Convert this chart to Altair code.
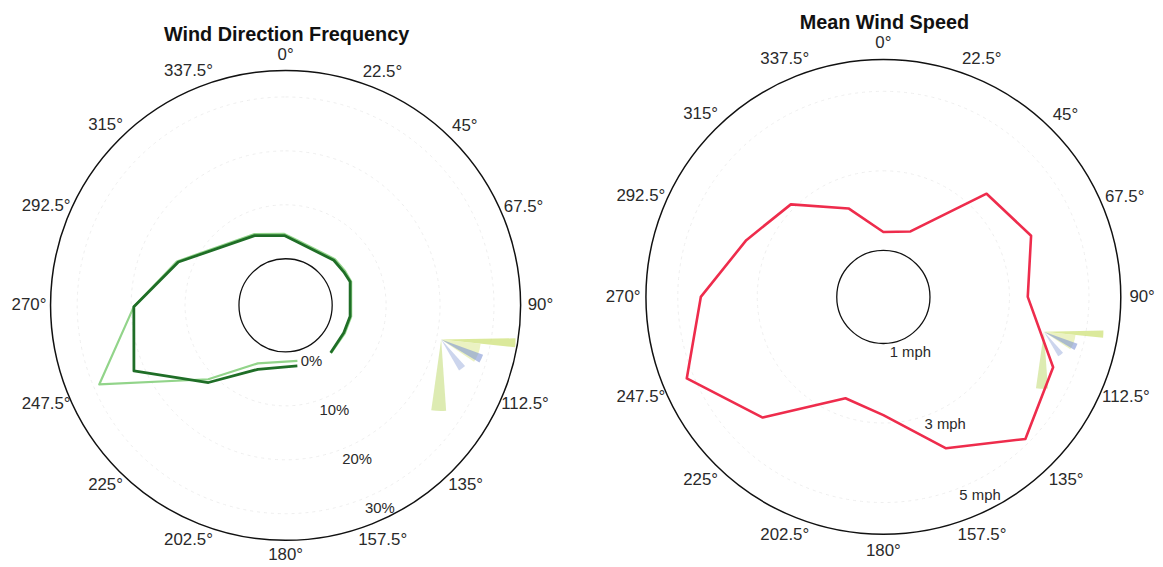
import altair as alt
import pandas as pd

# ---------------- data ----------------
DIR_ANGLES = [0, 22.5, 45, 67.5, 90, 112.5, 135, 157.5, 180, 202.5, 225, 247.5, 270, 292.5, 315, 337.5]
DIR_LABELS = ["0°", "22.5°", "45°", "67.5°", "90°", "112.5°", "135°", "157.5°",
              "180°", "202.5°", "225°", "247.5°", "270°", "292.5°", "315°", "337.5°"]

# Wind direction frequency (%), path order (open path)
FREQ_DARK_DIR = [169, 203.5, 225, 246.6, 269.5, 292, 336, 359, 10.6, 46.9, 60, 70, 99.7, 115.3, 136.5]
FREQ_DARK = [2.8, 4.3, 11.6, 22.0, 19.5, 12.8, 5.5, 4.3, 3.3, 3.6, 3.8, 4.1, 3.5, 3.3, 3.5]
FREQ_LIGHT_DIR = [168, 205.6, 226.3, 247, 269.5, 292, 336, 359, 10.6, 46.9, 60, 70, 99.7, 115.3, 136.5]
FREQ_LIGHT = [1.9, 3.3, 11.2, 28.9, 19.5, 13.1, 5.8, 4.6, 3.6, 3.9, 4.1, 4.3, 3.7, 3.5, 3.6]
FREQ_TICKS = [0, 10, 20, 30]
FREQ_TICK_TEXT = ["0%", "10%", "20%", "30%"]

# Mean wind speed (mph) by direction
SPEED_DIR = [0, 22.5, 45, 67.5, 90, 112.5, 135, 157.5, 180, 200.5, 225, 247.5, 270, 292.5, 315, 338.5]
SPEED_MEAN = [1.46, 1.61, 3.50, 3.85, 3.46, 4.45, 4.88, 3.95, 2.80, 2.55, 4.12, 5.18, 4.42, 3.56, 3.12, 2.22]
SPEED_TICKS = [1, 3, 5]
SPEED_TICK_TEXT = ["1 mph", "3 mph", "5 mph"]

# small coloured fan near 100 degrees
FAN_START = [89, 96, 110, 138, 176]
FAN_END = [96, 124, 121, 150, 188]
FAN_LEN = [75, 40, 45, 36, 72]
FAN_COLOR = ["#cfe27a", "#dde99a", "#8096d4", "#9aabdc", "#c6de7e"]
FAN_OPACITY = [0.75, 0.6, 0.6, 0.5, 0.6]

FONT = "Liberation Sans"
TAU = 6.283185307179586


def polar_xy(ch, r_expr):
    return (ch.transform_calculate(r=r_expr)
              .transform_calculate(x="datum.r*sin(datum.dir*PI/180)")
              .transform_calculate(y="datum.r*cos(datum.dir*PI/180)"))


def panel(cfg):
    xs = alt.Scale(domain=cfg["xdom"], nice=False, zero=False)
    ys = alt.Scale(domain=cfg["ydom"], nice=False, zero=False)
    X = alt.X("x:Q", scale=xs, axis=None)
    Y = alt.Y("y:Q", scale=ys, axis=None)
    r0, k = cfg["r0"], cfg["k"]

    def rings(radii, color, width, dash=None):
        mk = dict(fillOpacity=0, stroke=color, strokeWidth=width)
        if dash:
            mk["strokeDash"] = dash
        return (alt.Chart(pd.DataFrame({"R": radii}))
                .mark_arc(**mk)
                .transform_calculate(x="0", y="0", t0="0", t1=str(TAU))
                .encode(x=X, y=Y,
                        theta=alt.Theta("t0:Q", scale=None),
                        theta2=alt.Theta2("t1:Q"),
                        radius=alt.Radius("R:Q", scale=None)))

    layers = []
    grid_r = [r0 + k * v for v in cfg["ticks"] if r0 + k * v > cfg["hole"] + 5]
    layers.append(rings(grid_r, "#eeeeee", 1, [3, 4]))
    layers.append(rings([cfg["outer"]], "#111111", 1.5))
    layers.append(rings([cfg["hole"]], "#111111", 1.3))

    # fan
    fan = pd.DataFrame({"s": FAN_START, "e": FAN_END, "L": FAN_LEN,
                        "c": FAN_COLOR, "o": FAN_OPACITY})
    fan_ch = (alt.Chart(fan).mark_arc(strokeWidth=0)
              .transform_calculate(dir=str(cfg["fan_dir"]))
              .transform_calculate(r=str(cfg["fan_r"]))
              .transform_calculate(x="datum.r*sin(datum.dir*PI/180)")
              .transform_calculate(y="datum.r*cos(datum.dir*PI/180)")
              .transform_calculate(t0="datum.s*PI/180", t1="datum.e*PI/180",
                                   R="datum.L*%f" % cfg["fan_scale"])
              .encode(x=X, y=Y,
                      theta=alt.Theta("t0:Q", scale=None),
                      theta2=alt.Theta2("t1:Q"),
                      radius=alt.Radius("R:Q", scale=None),
                      color=alt.Color("c:N", scale=None),
                      opacity=alt.Opacity("o:Q", scale=None)))
    layers.append(fan_ch)

    # series
    for s in cfg["series"]:
        df = pd.DataFrame({"dir": s["dir"], "v": s["v"], "i": list(range(len(s["v"])))})
        ch = polar_xy(alt.Chart(df), "%f + %f*datum.v" % (r0, k))
        ch = ch.mark_line(color=s["color"], strokeWidth=s["w"], interpolate=s["interp"],
                          strokeJoin="round").encode(x=X, y=Y, order=alt.Order("i:Q"))
        layers.append(ch)

    # angle labels
    lab = pd.DataFrame({"dir": DIR_ANGLES, "t": DIR_LABELS})
    lab_r = "%f + abs(sin(datum.dir*PI/180))*length(datum.t)*%f" % (cfg["lab_r"], cfg["lab_f"])
    lab_ch = polar_xy(alt.Chart(lab), lab_r).mark_text(
        font=FONT, fontSize=17, color="#2a2a2a", align="center", baseline="middle"
    ).encode(x=X, y=Y, text="t:N")
    layers.append(lab_ch)

    # radial tick labels
    tk = pd.DataFrame({"v": cfg["ticks"], "t": cfg["tick_text"]})
    tk_ch = (alt.Chart(tk).transform_calculate(dir=str(cfg["tick_dir"])))
    tk_ch = polar_xy(tk_ch, "%f + %f*datum.v + 15" % (r0, k)).mark_text(
        font=FONT, fontSize=15, color="#2a2a2a", align="center", baseline="middle"
    ).encode(x=X, y=Y, text="t:N")
    layers.append(tk_ch)

    # title
    ttl = alt.Chart(pd.DataFrame({"t": [cfg["title"]]})).mark_text(
        font=FONT, fontSize=20, fontWeight="bold", color="#111111",
        align="center", baseline="middle"
    ).encode(x=alt.value(cfg["title_px"][0]), y=alt.value(cfg["title_px"][1]), text="t:N")
    layers.append(ttl)

    return alt.layer(*layers).properties(width=cfg["w"], height=cfg["h"])


left = panel(dict(
    title="Wind Direction Frequency", title_px=(281, 24.5),
    w=575, h=551, xdom=[-280, 295], ydom=[-253.5, 297.5],
    r0=47, k=5.44, outer=237, hole=47, lab_r=252, lab_f=1.7, tick_dir=155,
    ticks=FREQ_TICKS, tick_text=FREQ_TICK_TEXT,
    fan_dir=102.4, fan_r=160.7, fan_scale=1.0,
    series=[
        dict(dir=FREQ_LIGHT_DIR, v=FREQ_LIGHT, color="#92d48a", w=2.2, interp="linear"),
        dict(dir=FREQ_DARK_DIR, v=FREQ_DARK, color="#1f6e27", w=2.8, interp="linear"),
    ],
))

right = panel(dict(
    title="Mean Wind Speed", title_px=(307, 12.5),
    w=570, h=551, xdom=[-306, 264], ydom=[-262, 289],
    r0=6.9, k=40.1, outer=239.5, hole=47, lab_r=256.5, lab_f=1.5, tick_dir=154,
    ticks=SPEED_TICKS, tick_text=SPEED_TICK_TEXT,
    fan_dir=102.2, fan_r=165.7, fan_scale=0.8,
    series=[
        dict(dir=SPEED_DIR, v=SPEED_MEAN, color="#ee2c4c", w=2.6, interp="linear-closed"),
    ],
))

chart = alt.hconcat(left, right, spacing=2).properties(padding=0).configure_view(stroke=None)
chart.save("out.html", embed_options={"renderer": "svg", "actions": False})
